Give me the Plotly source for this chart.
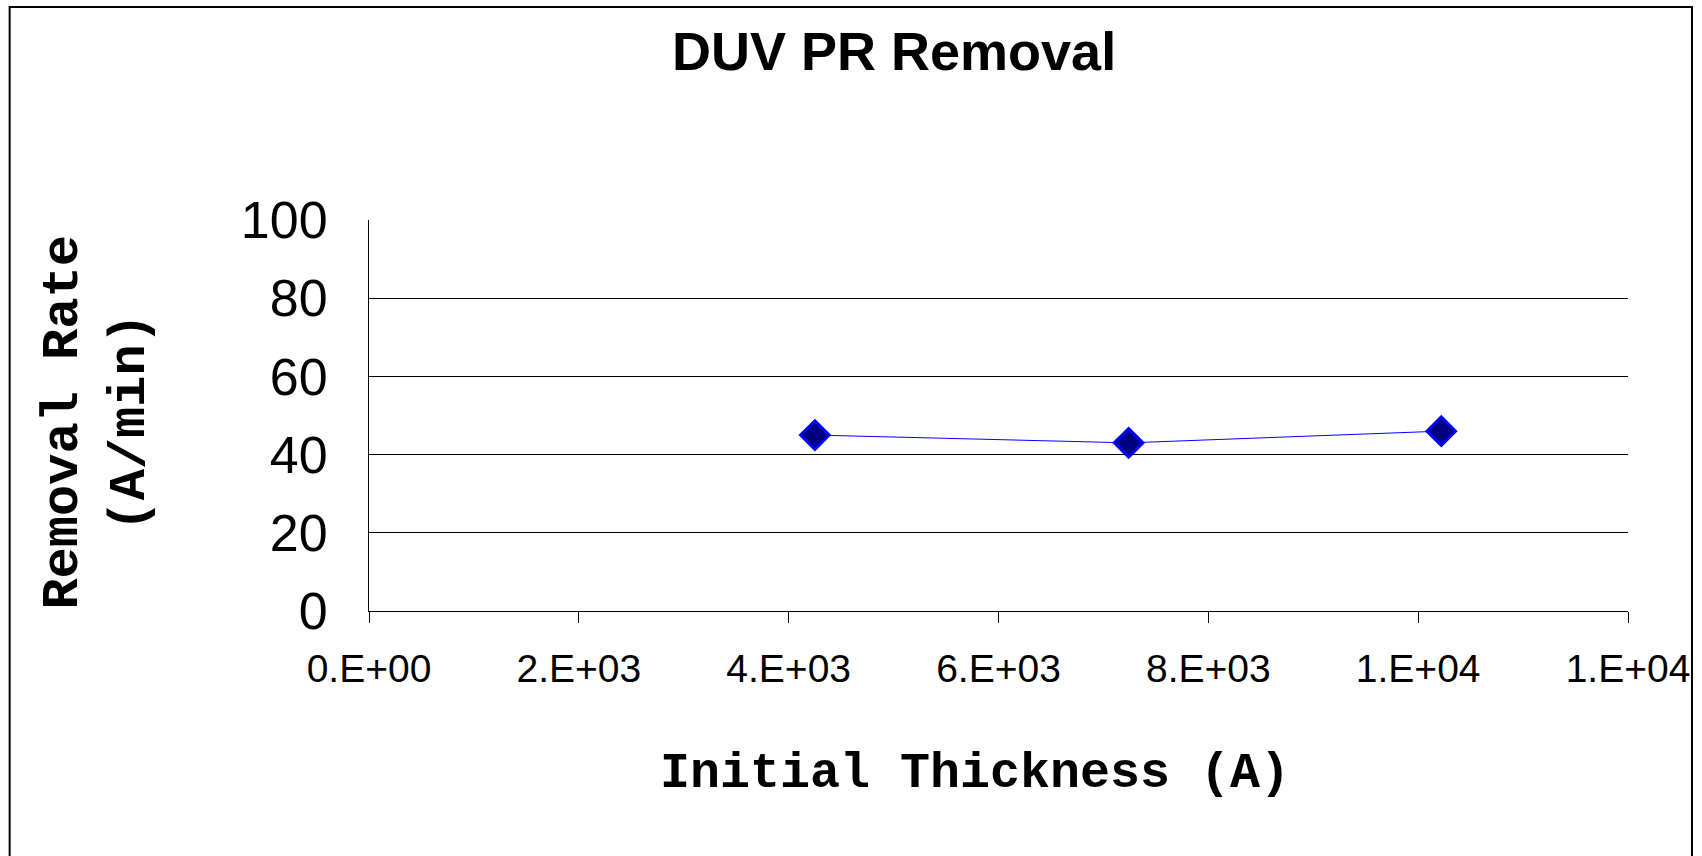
import plotly.graph_objects as go

# data
thickness = [4250, 7240, 10220]
removal_rate = [45, 43, 46]
x_ticks = [0, 2000, 4000, 6000, 8000, 10000, 12000]
x_tick_text = ["0.E+00", "2.E+03", "4.E+03", "6.E+03", "8.E+03", "1.E+04", "1.E+04"]
y_ticks = [0, 20, 40, 60, 80, 100]

W, H = 1702, 856
L, R, T, B = 368.5, 1628, 219.5, 611.5   # plot area in pixels

def px_x(p):
    return (p - L) / (R - L)

def px_y(p):
    return (B - p) / (B - T)

arial = "Arial, 'Liberation Sans', sans-serif"
courier = "'Courier New', 'Liberation Mono', monospace"

fig = go.Figure(go.Scatter(
    x=thickness,
    y=removal_rate,
    mode='lines+markers',
    line=dict(color='#0000FF', width=1),
    marker=dict(symbol='diamond', size=22, color='#000080',
                line=dict(color='#0000FF', width=3)),
    showlegend=False,
))

fig.update_layout(
    width=W, height=H,
    margin=dict(l=L, r=W - R, t=T, b=H - B),
    paper_bgcolor='white',
    plot_bgcolor='white',
    xaxis=dict(
        range=[0, 12000],
        tickvals=x_ticks,
        ticktext=x_tick_text,
        showgrid=False,
        zeroline=False,
        showline=True, linecolor='black', linewidth=1,
        ticks='outside', ticklen=11, tickcolor='black', tickwidth=1,
        ticklabelstandoff=12,
        tickfont=dict(family=arial, size=39, color='black'),
    ),
    yaxis=dict(
        range=[0, 100],
        tickvals=y_ticks,
        showgrid=True, gridcolor='black', gridwidth=1,
        zeroline=False,
        showline=True, linecolor='black', linewidth=1,
        ticks='',
        ticklabelstandoff=30,
        tickfont=dict(family=arial, size=52, color='black'),
    ),
)

# chart border
fig.add_shape(type='rect', xref='paper', yref='paper',
              x0=px_x(9), x1=px_x(1692), y0=px_y(900), y1=px_y(6),
              line=dict(color='black', width=2), layer='above')

# title
fig.add_annotation(text="DUV PR Removal", xref='paper', yref='paper',
                   x=px_x(894), y=px_y(50), xanchor='center', yanchor='middle',
                   showarrow=False,
                   font=dict(family=arial, size=54, color='black', weight='bold'))

# axis titles
fig.add_annotation(text="Initial Thickness (A)", xref='paper', yref='paper',
                   x=px_x(975), y=px_y(774), xanchor='center', yanchor='middle',
                   showarrow=False,
                   font=dict(family=courier, size=50, color='black', weight='bold'))
fig.add_annotation(text="Removal Rate<br>(A/min)", xref='paper', yref='paper',
                   x=px_x(97), y=px_y(423), xanchor='center', yanchor='middle',
                   textangle=-90, showarrow=False,
                   font=dict(family=courier, size=52, color='black', weight='bold'))

# drop the default page margin so the figure sits at the window origin
fig.write_html("out.html",
               config={'displayModeBar': False},
               post_script="document.body.style.margin='0';"
                           "document.body.style.overflow='hidden';")
